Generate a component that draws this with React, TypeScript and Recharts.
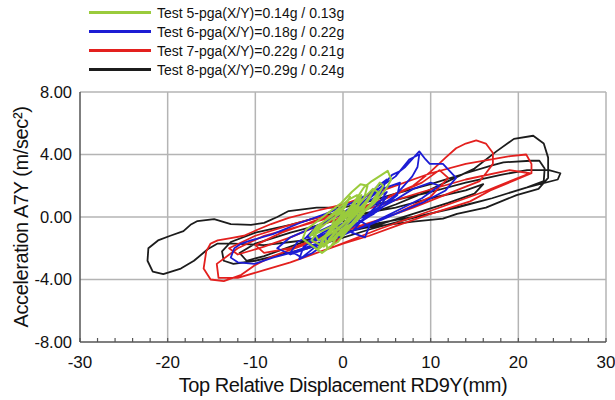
import { ScatterChart, Scatter, XAxis, YAxis, ReferenceLine, Legend } from 'recharts';

const FONT = '"Liberation Sans", Arial, Helvetica, sans-serif';

const xTicks = [-30, -28, -26, -24, -22, -20, -18, -16, -14, -12, -10, -8, -6, -4, -2, 0, 2, 4, 6, 8, 10, 12, 14, 16, 18, 20, 22, 24, 26, 28, 30];
const yTicks = [-8, -4, 0, 4, 8];
const xGrid = [-20, -10, 0, 10, 20, 30];
const yGrid = [-4, 0, 4, 8];

// displacement (mm), acceleration (m/sec2) pairs, in time order
const test5: [number, number][] = [
  [0, 0], [1.2, 0.9], [2.4, 1.9], [3.3, 2.3], [4.4, 2.7], [5.1, 2.95], [5.5, 2.4], [4.8, 1.7], [3.6, 0.9], [2.2, 0.2],
  [0.8, -0.5], [-0.6, -1.2], [-1.4, -1.9], [-2.4, -2.3], [-3.4, -1.9], [-4.6, -1.4], [-4.2, -0.8], [-3.0, -0.3], [-1.6, 0.3], [-0.2, 0.9],
  [1.0, 1.6], [2.0, 2.1], [2.8, 2.0], [2.4, 1.2], [1.2, 0.4], [-0.2, -0.3], [-1.6, -1.0], [-2.8, -1.5], [-3.3, -1.0], [-2.2, -0.3],
  [-0.8, 0.4], [0.6, 1.1], [1.6, 1.4], [1.8, 0.6], [0.6, -0.2], [-0.8, -0.8], [-2.0, -1.3], [-1.8, -2.0], [-0.6, -1.6], [0.6, -0.8],
  [1.8, -0.1], [3.0, 0.7], [4.0, 1.6], [3.4, 1.8], [2.0, 1.0], [0.6, 0.2], [-1.0, -0.5], [-2.4, -0.9], [-3.8, -1.2], [-3.0, -0.6],
  [-1.4, 0.0], [0.0, 0.6], [0.8, 1.3], [0.2, 0.6], [-0.8, 0.1], [-1.2, -0.4], [-0.2, -0.9], [1.0, -0.4], [2.2, 0.4], [3.0, 1.3],
  [4.2, 2.2], [4.6, 2.0], [3.8, 1.2], [2.6, 0.5], [1.2, -0.3], [0, -0.9], [-1.2, -1.5], [-2.6, -1.8], [-1.6, -1.0], [-0.4, -0.3],
  [0.6, 0.3], [1.4, 0.9], [0.9, 0.1], [-0.1, -0.5], [-1.0, -1.1], [-2.0, -1.7], [-2.9, -2.1], [-2.2, -1.3], [-1.2, -0.6], [0.0, 0.1],
  [1.1, 0.7], [2.1, 1.4], [1.6, 0.5], [0.5, -0.2], [-0.5, -0.7], [-1.6, -1.4], [-0.9, -1.0], [0.2, -0.4], [1.3, 0.2], [2.6, 1.0],
  [3.4, 1.6], [2.7, 0.9], [1.4, 0.1], [0.2, -0.6], [-1.0, -1.3], [-2.2, -1.9], [-3.6, -1.5], [-2.6, -0.7], [-1.2, -0.1], [0.2, 0.4],
  [-0.5, -0.1], [-1.5, -0.7], [-0.3, -1.2], [0.9, -0.6], [2.0, 0.0], [1.0, 0.4], [0, 0],
];

const test6: [number, number][] = [
  [0, -0.2], [1.5, 0.6], [3, 1.3], [4.5, 2.0], [5.6, 2.7], [6.4, 2.9], [7.1, 3.2], [8.2, 3.9], [8.7, 4.2], [9.4, 3.7],
  [9.9, 3.4], [11.4, 3.4], [12.9, 2.5], [11.7, 1.7], [9, 0.9], [6, 0.2], [3, -0.5], [0, -1.1], [-3, -1.7], [-6, -2.3],
  [-8, -2.6], [-10.1, -3.0], [-12, -2.9], [-12.8, -2.6], [-12.4, -2.0], [-11.6, -1.7], [-10.5, -1.5], [-8, -1.1], [-5, -0.4], [-2, 0.2],
  [1, 0.9], [4, 1.8], [6, 2.6], [7.6, 3.7], [8.7, 4.0], [8.5, 3.2], [7.9, 2.6], [6, 1.4], [3, 0.2], [0, -0.6],
  [-2, -1.4], [-4.7, -2.6], [-5.9, -2.2], [-5.2, -1.6], [-3, -1.0], [0, -0.2], [2, 0.8], [4.5, 1.8], [6.5, 2.2], [6.2, 1.4],
  [4, 0.4], [1.5, -0.5], [-1, -1.2], [-3.5, -1.9], [-6, -2.4], [-7.5, -2.0], [-6, -1.3], [-3.5, -0.7], [-1, 0], [1.5, 0.6],
  [3.5, 1.2], [5, 1.6], [4, 0.8], [2, -0.3], [1, -1.0], [2.5, -1.3], [3, -0.6], [1.5, -0.1], [-0.5, -0.6], [-2.5, -1.2],
  [-4.5, -1.9], [-5, -2.7], [-3.5, -2.3], [-2, -1.7], [0, -1.0], [2, -0.3], [4, 0.5], [6, 1.1], [8, 1.8], [10, 2.2],
  [11, 2.0], [9, 1.2], [6.5, 0.5], [4, -0.2], [1.5, -0.8], [-1, -1.4], [-3, -2.0], [-4, -1.6], [-2, -0.9], [0.5, -0.3],
  [3, 0.6], [5, 1.3], [3.5, 0.2], [1.5, -0.4], [-0.5, -1.0], [-2.8, -1.5], [-4.2, -1.3], [-3, -0.6], [-0.5, 0.1], [2, 1.0],
  [3.8, 1.9], [5, 2.4], [4.2, 1.4],
];

const test7: [number, number][] = [
  [0, 0], [4, 1.0], [8, 2.0], [10, 2.9], [11.7, 3.8], [12.9, 4.4], [14, 4.7], [15.2, 4.9], [16.3, 4.7], [17.1, 4.1],
  [17.1, 3.4], [16.3, 2.8], [15.6, 2.3], [12, 1.5], [8, 0.6], [4, -0.2], [0, -0.9], [-4, -1.7], [-8, -2.5], [-10.1, -3.1],
  [-11.6, -3.7], [-13.6, -4.1], [-15.1, -4.0], [-15.9, -3.3], [-15.6, -2.2], [-15.1, -1.7], [-14.3, -1.5], [-12.8, -1.35], [-11.3, -1.2], [-9.7, -0.8],
  [-8.2, -0.45], [-6.2, -0.05], [-3, 0.4], [0, 0.8], [5, 1.8], [10, 2.8], [14, 3.4], [17.1, 3.7], [19.1, 3.9], [20.9, 4.0],
  [21.5, 3.4], [21.5, 2.8], [19.8, 2.4], [16.8, 1.7], [14.5, 1.0], [10, 0.2], [6.4, -0.5], [3, -1.2], [0, -1.7], [-3, -2.3],
  [-6, -2.9], [-9, -3.4], [-12, -3.9], [-14.2, -3.9], [-14.4, -3.0], [-12, -2.0], [-9, -1.2], [-5, -0.6], [0, 0.2], [5, 1.2],
  [9, 2.2], [11, 3.0], [12, 2.5], [10, 1.3], [6, 0.2], [2, -0.6], [-2, -1.2], [-6, -2.0], [-9, -2.3], [-10, -1.8],
  [-7, -1.0], [-3, -0.2], [0, 0.3], [3, 0.8], [1, -0.5], [-1.5, -2.0], [4, -0.8], [10, 0.4], [16, 1.6], [21.3, 2.8],
  [19, 3.0], [14, 2.4], [9, 1.6], [5, 0.9], [1, 0.2], [-3, -0.6], [-6, -1.3], [-9, -1.9], [-12, -2.4], [-13, -2.0],
  [-10, -1.2], [-6, -0.5], [-2, 0.1], [0, 0],
];

const test8: [number, number][] = [
  [0, -0.3], [3, 0.2], [6, 0.8], [9, 1.5], [12, 2.3], [15, 3.1], [17.5, 4.2], [19.5, 5.0], [21.7, 5.2], [22.9, 4.7],
  [23.4, 3.8], [23.4, 2.5], [22.3, 1.8], [19.8, 1.4], [16.3, 0.6], [13, 0.2], [11.4, -0.1], [8, -0.3], [5, -0.5], [2.5, -0.7],
  [0, -1.0], [-3, -1.4], [-6, -1.6], [-9, -1.8], [-12.5, -1.7], [-14.3, -1.7], [-15.4, -2.05], [-17, -2.8], [-18.5, -3.3], [-20.5, -3.65],
  [-21.7, -3.5], [-22.3, -2.8], [-22.2, -2.0], [-21.1, -1.5], [-19.7, -1.2], [-18.2, -0.9], [-17.4, -0.5], [-16.6, -0.26], [-14.7, -0.13], [-12.8, -0.45],
  [-10.5, -0.5], [-9, -0.38], [-7.5, 0], [-6.2, 0.38], [-3, 0.6], [0, 0.6], [3, 1.0], [6, 1.5], [10, 2.1], [14, 2.8],
  [17, 3.3], [18.3, 3.5], [21.4, 3.6], [22.4, 3.6], [23, 3.1], [22.9, 2.3], [21, 1.9], [17, 1.2], [12, 0.5], [7, -0.2],
  [3, -0.8], [-1, -1.5], [-4, -2.0], [-7, -2.4], [-10, -2.8], [-12.5, -3.0], [-13.6, -2.8], [-13.8, -2.2], [-12.8, -1.6], [-10, -1.0],
  [-6, -0.5], [-2, 0.1], [2, 0.6], [6, 1.1], [10, 1.6], [14, 2.2], [18, 2.7], [21, 3.0], [23.5, 3.0], [24.8, 2.8],
  [24.5, 2.4], [21, 1.9], [17, 1.2], [13, 0.6], [9, 0.1], [5, -0.3], [1, -0.7], [-3, -1.3], [-6, -1.9], [-9, -2.5],
  [-11, -2.8], [-11.8, -2.3], [-10, -1.7], [-6, -1.0], [-2, -0.4], [2, 0.2], [6, 0.6], [10, 1.2], [14, 1.7], [16, 2.1],
  [15, 1.5], [12, 0.9], [8, 0.2], [4, -0.5], [0, -0.8],
];

const series = [
  { name: 'Test 8-pga(X/Y)=0.29g / 0.24g', color: '#1c1c1c', points: test8, width: 1.8 },
  { name: 'Test 7-pga(X/Y)=0.22g / 0.21g', color: '#e3201e', points: test7, width: 1.8 },
  { name: 'Test 6-pga(X/Y)=0.18g / 0.22g', color: '#1c1cd4', points: test6, width: 1.8 },
  { name: 'Test 5-pga(X/Y)=0.14g / 0.13g', color: '#9acb3c', points: test5, width: 2 },
];

const legendOrder = [3, 2, 1, 0];

const noDot = () => <g />;

const XTick = (props: any) => {
  const { x, y, payload } = props;
  const axisY = y - 14;
  const major = payload.value % 10 === 0;
  return (
    <g>
      <line x1={x} x2={x} y1={axisY} y2={axisY - 4} stroke="#555" strokeWidth={1.2} />
      {major && (
        <text x={x} y={y} dy="0.71em" textAnchor="middle" fontSize={17} fill="#111" fontFamily={FONT}>
          {payload.value}
        </text>
      )}
    </g>
  );
};

const LegendBox = () => (
  <div style={{ fontFamily: FONT, fontSize: 14, color: '#111', paddingTop: 3 }}>
    {legendOrder.map((i) => (
      <div key={i} style={{ display: 'flex', alignItems: 'center', height: 19 }}>
        <div style={{ marginLeft: 89, width: 62, height: 3, background: series[i].color }} />
        <span style={{ marginLeft: 6, whiteSpace: 'nowrap' }}>{series[i].name}</span>
      </div>
    ))}
  </div>
);

export default function App() {
  return (
    <div style={{ position: 'absolute', left: 0, top: 0, width: 615, height: 400, background: '#fff' }}>
      <ScatterChart width={615} height={400} margin={{ top: 92, right: 9, bottom: 0, left: 0 }}>
        {xGrid.map((v) => (
          <ReferenceLine key={'x' + v} x={v} stroke="#b4b4b4" strokeWidth={1.5} />
        ))}
        {yGrid.map((v) => (
          <ReferenceLine key={'y' + v} y={v} stroke="#b4b4b4" strokeWidth={1.5} />
        ))}
        <XAxis
          type="number"
          dataKey="x"
          domain={[-30, 30]}
          ticks={xTicks}
          interval={0}
          height={58}
          tickSize={0}
          tickMargin={14}
          tickLine={false}
          tick={<XTick />}
          axisLine={{ stroke: '#555', strokeWidth: 1.5 }}
          label={{ value: 'Top Relative Displacement RD9Y(mm)', position: 'insideBottom', offset: 8, fontSize: 20, fill: '#111', fontFamily: FONT, style: { letterSpacing: '-0.4px' } }}
        />
        <YAxis
          type="number"
          dataKey="y"
          domain={[-8, 8]}
          ticks={yTicks}
          interval={0}
          width={80}
          tickSize={0}
          tickMargin={8}
          tickLine={false}
          tickFormatter={(v: number) => v.toFixed(2)}
          tick={{ fontSize: 16.5, fill: '#111', fontFamily: FONT }}
          axisLine={{ stroke: '#555', strokeWidth: 1.5 }}
          label={{ value: 'Acceleration A7Y (m/sec²)', angle: -90, position: 'insideLeft', offset: 21, fontSize: 20, fill: '#111', fontFamily: FONT, style: { textAnchor: 'middle', letterSpacing: '-0.4px' } }}
        />
        {series.map((s) => (
          <Scatter
            key={s.name}
            name={s.name}
            data={s.points.map(([x, y]) => ({ x, y }))}
            fill={s.color}
            line={{ strokeWidth: s.width, strokeLinejoin: 'round' }}
            lineType="joint"
            shape={noDot}
            isAnimationActive={false}
          />
        ))}
        <Legend
          layout="vertical"
          align="center"
          verticalAlign="middle"
          wrapperStyle={{ top: 0, left: 0, width: 420 }}
          content={() => <LegendBox />}
        />
      </ScatterChart>
    </div>
  );
}
